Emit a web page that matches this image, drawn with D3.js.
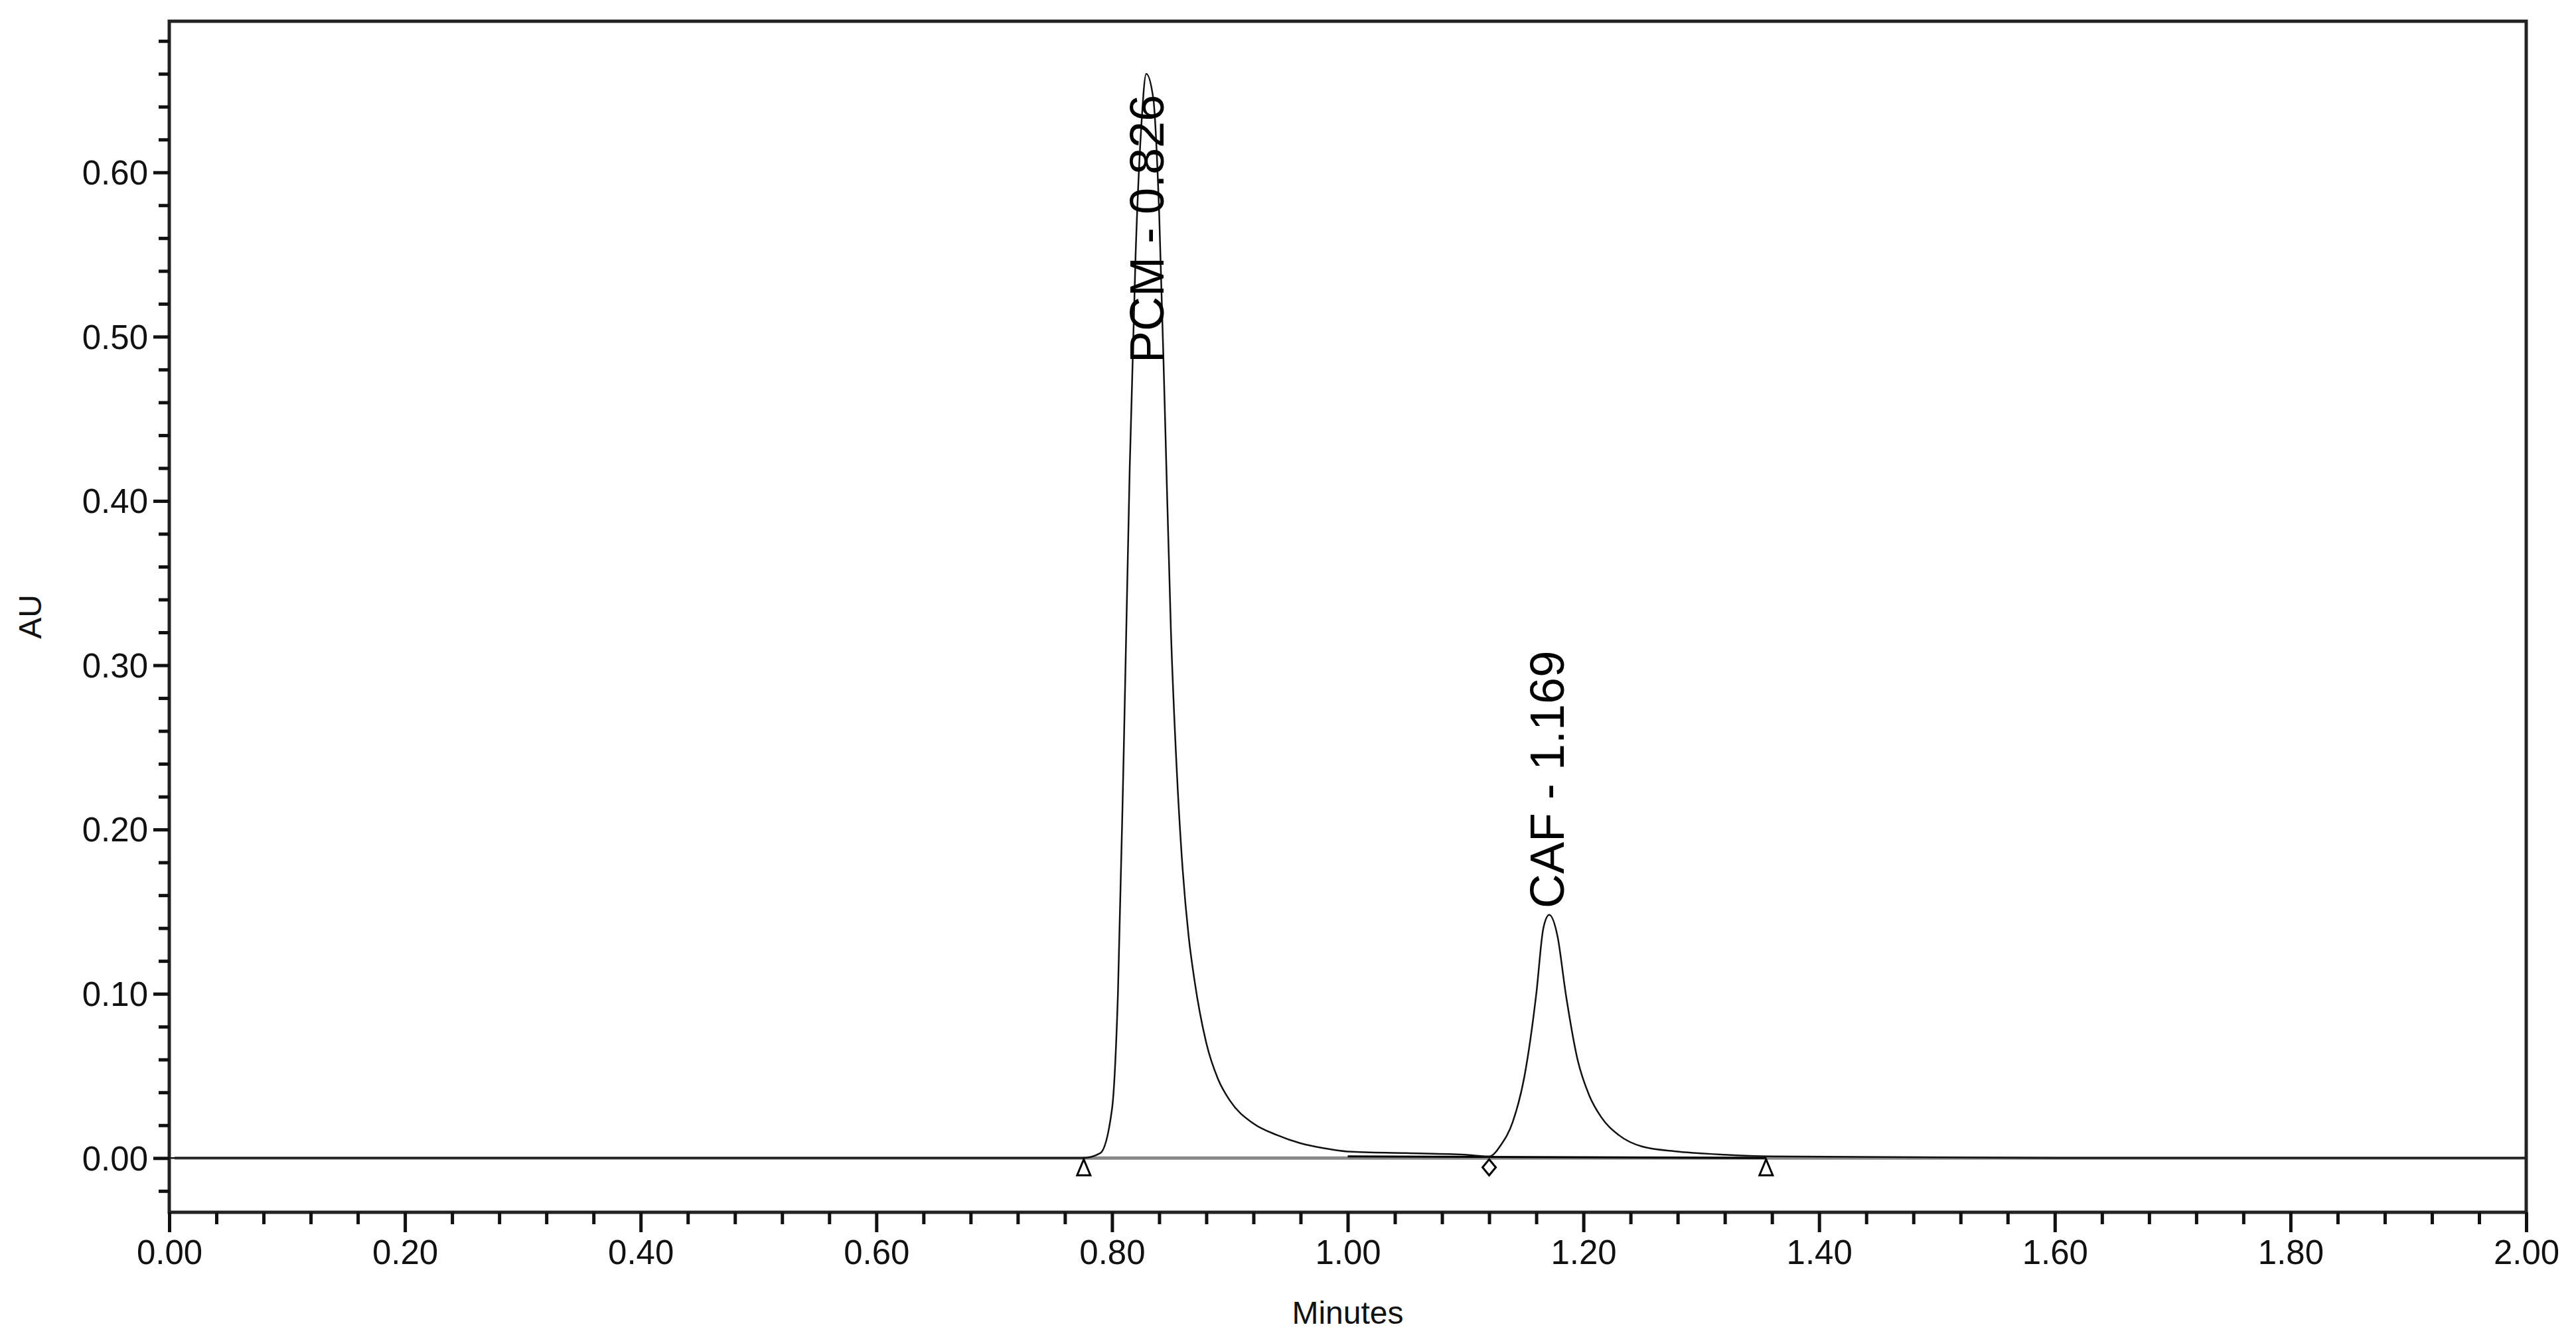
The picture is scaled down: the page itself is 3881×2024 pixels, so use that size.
<!DOCTYPE html>
<html><head><meta charset="utf-8">
<script src="https://cdn.jsdelivr.net/npm/d3@7"></script>
<style>body{margin:0;background:#fff}svg{display:block}text{font-family:Arial,"Liberation Sans",sans-serif}</style>
</head><body><svg id="c" width="3881" height="2024"></svg>
<script>
const times = [0.00,0.50,0.775,0.790,0.800,0.805,0.810,0.815,0.820,0.825,0.829,0.835,0.840,0.845,0.850,0.855,0.860,0.865,0.870,0.880,0.890,0.900,0.920,0.940,0.960,0.980,1.000,1.050,1.100,1.120,1.130,1.140,1.150,1.160,1.166,1.171,1.178,1.185,1.195,1.205,1.215,1.230,1.250,1.280,1.320,1.360,1.600,2.000];
const au    = [0.000,0.000,0.000,0.003,0.030,0.100,0.250,0.420,0.550,0.630,0.660,0.645,0.575,0.450,0.320,0.235,0.175,0.135,0.108,0.070,0.048,0.035,0.021,0.014,0.009,0.006,0.004,0.003,0.002,0.001,0.008,0.022,0.050,0.100,0.140,0.148,0.135,0.100,0.060,0.038,0.025,0.014,0.007,0.004,0.002,0.001,0.000,0.000];
const peakLabels = ["PCM - 0.826","CAF - 1.169"];
const peakTimes = [0.829,1.171];
const peakHeights = [0.66,0.148];
const markerTimes = [0.776,1.120,1.355];
const markerTypes = ["triangle","diamond","triangle"];
const xTicks = [0,0.2,0.4,0.6,0.8,1.0,1.2,1.4,1.6,1.8,2.0];
const yTicks = [0,0.1,0.2,0.3,0.4,0.5,0.6];

const svg = d3.select("#c");
const L=255,R=3806,T=32,B=1827;
const x = d3.scaleLinear().domain([0,2]).range([L,R]);
const y = d3.scaleLinear().domain([-0.033,0.692]).range([B,T]);

svg.append("line").attr("x1",x(0)+8).attr("x2",R).attr("y1",y(0)).attr("y2",y(0)).attr("stroke","#888").attr("stroke-width",5);
svg.append("line").attr("x1",x(1.0)).attr("x2",x(1.355)).attr("y1",y(0.001)).attr("y2",y(0)).attr("stroke","#000").attr("stroke-width",3);

svg.append("path").datum(times.map((t,i)=>[t,au[i]]))
  .attr("d",d3.line().x(d=>x(d[0])).y(d=>y(d[1])).curve(d3.curveMonotoneX))
  .attr("fill","none").attr("stroke","#111").attr("stroke-width",2.5);

markerTimes.forEach((t,i)=>{
  const cx=x(t), cy=y(0)+14;
  if(markerTypes[i]==="triangle"){
    svg.append("path").attr("d",`M${cx},${cy-12}L${cx+10},${cy+12}L${cx-10},${cy+12}Z`).attr("fill","#fff").attr("stroke","#000").attr("stroke-width",3);
  } else {
    svg.append("path").attr("d",`M${cx},${cy-12}L${cx+10},${cy}L${cx},${cy+12}L${cx-10},${cy}Z`).attr("fill","#fff").attr("stroke","#000").attr("stroke-width",3);
  }
});

svg.append("rect").attr("x",L).attr("y",T).attr("width",R-L).attr("height",B-T).attr("fill","none").attr("stroke","#222").attr("stroke-width",5);

const xa = svg.append("g").attr("transform",`translate(0,${B})`)
  .call(d3.axisBottom(x).tickValues(xTicks).tickFormat(d3.format(".2f")).tickSize(30).tickPadding(12));
const xm = svg.append("g").attr("transform",`translate(0,${B})`)
  .call(d3.axisBottom(x).tickValues(d3.range(0,2.001,0.04).filter(v=>Math.abs(v*5-Math.round(v*5))>1e-6)).tickFormat("").tickSize(18));
const ya = svg.append("g").attr("transform",`translate(${L},0)`)
  .call(d3.axisLeft(y).tickValues(yTicks).tickFormat(d3.format(".2f")).tickSize(24).tickPadding(8));
const ym = svg.append("g").attr("transform",`translate(${L},0)`)
  .call(d3.axisLeft(y).tickValues(d3.range(-0.02,0.69,0.02).filter(v=>Math.abs(v*10-Math.round(v*10))>1e-6)).tickFormat("").tickSize(16));
[xa,xm,ya,ym].forEach(g=>{g.select(".domain").remove();g.selectAll("line").attr("stroke","#111").attr("stroke-width",5);});
xa.selectAll("text").attr("font-size",51).attr("fill","#111");
ya.selectAll("text").attr("font-size",51).attr("fill","#111").attr("dy","0.35em");

svg.append("text").attr("x",(L+R)/2).attr("y",1995).attr("text-anchor","middle").attr("font-size",48).attr("fill","#111").text("Minutes");
svg.append("text").attr("transform",`translate(62,${(T+B)/2}) rotate(-90)`).attr("text-anchor","middle").attr("font-size",48).attr("fill","#111").text("AU");

const offs=[[26,-0.176],[22,0.004]];
peakLabels.forEach((lab,i)=>{
  const px=x(peakTimes[i])+offs[i][0], py=y(peakHeights[i]+offs[i][1]);
  svg.append("text").attr("transform",`translate(${px},${py}) rotate(-90)`).attr("font-size",72).attr("fill","#000").text(lab);
});
</script></body></html>
